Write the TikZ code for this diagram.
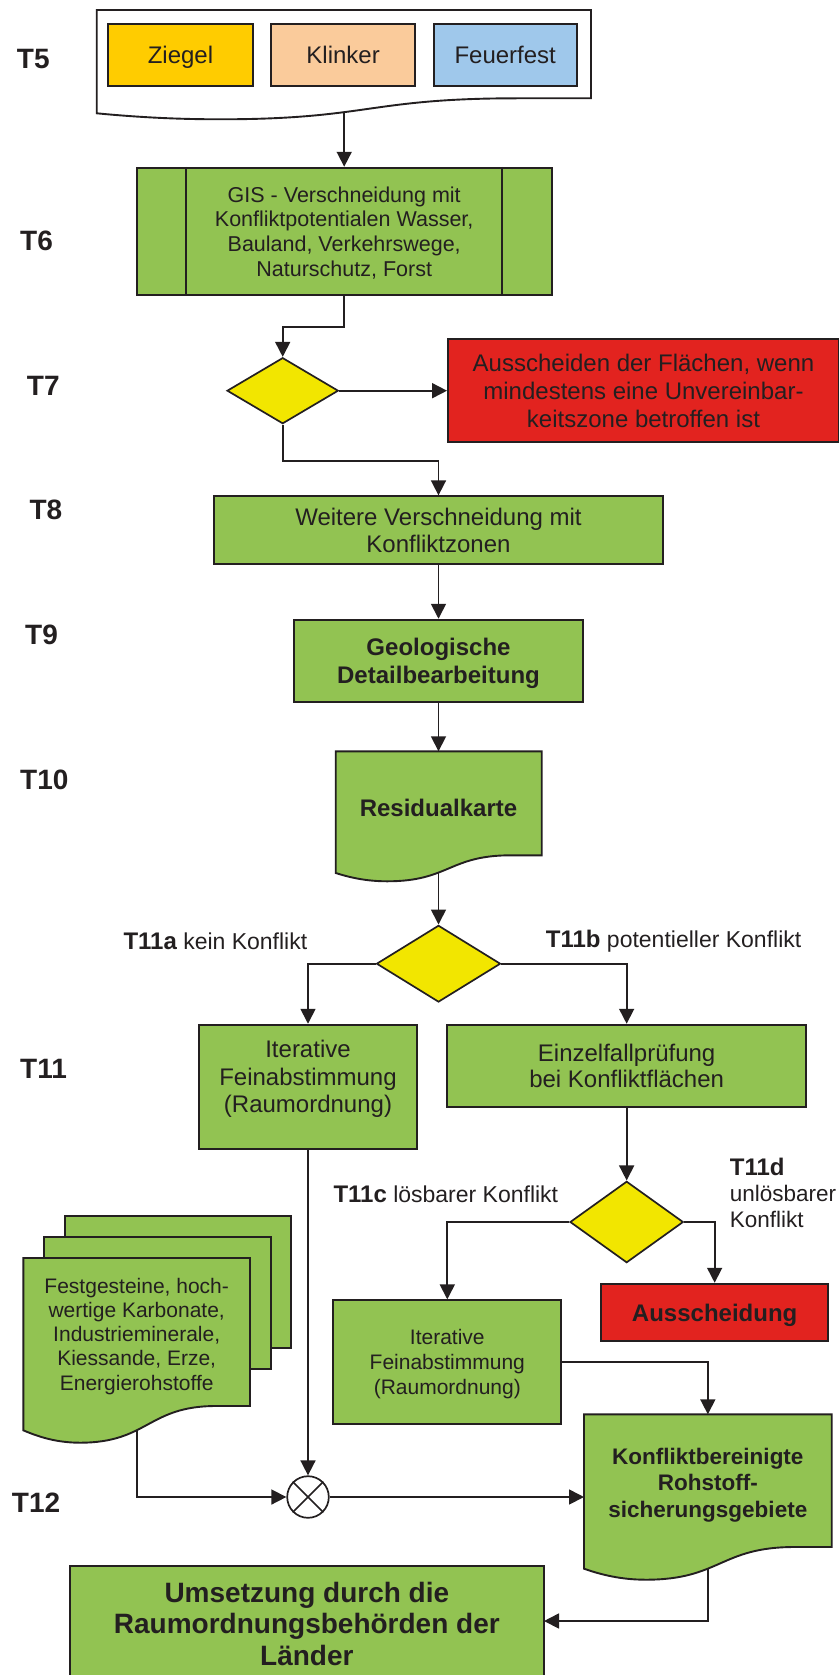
\documentclass[tikz,border=0pt]{standalone}
\usepackage{fontspec}
\setmainfont{Liberation Sans}
\usetikzlibrary{arrows.meta,shapes.geometric}
\definecolor{gr}{RGB}{146,195,82}
\definecolor{zg}{RGB}{255,204,0}
\definecolor{kl}{RGB}{250,203,155}
\definecolor{ff}{RGB}{159,200,235}
\definecolor{yl}{RGB}{242,230,0}
\definecolor{rd}{RGB}{226,35,31}
\definecolor{ink}{RGB}{35,31,32}
\newcommand\fs[2]{\fontsize{#1}{#2}\selectfont}
% style, name, x1, y1, x2, y2, text
\newcommand\mkbox[7]{\node[#1,minimum width={#5-#3},minimum height={#6-#4}] (#2) at ({(#3+#5)/2},{(#4+#6)/2}) {#7};}
% style, x1, top, x2, yLeftBottom, dip, yRightBottom
\newcommand\mkdoc[7]{\path[#1] (#2,#3) -- (#4,#3) -- (#4,#7) -- ({#2+0.85*(#4-#2)},#7) .. controls ({#2+0.55*(#4-#2)},#7) and ({#2+0.55*(#4-#2)},{#5+#6}) .. ({#2+0.25*(#4-#2)},{#5+#6}) .. controls ({#2+0.15*(#4-#2)},{#5+#6}) and ({#2+0.07*(#4-#2)},{#5+0.55*#6}) .. (#2,#5) -- cycle;}
\tikzset{
 box/.style={draw=ink, line width=1.9pt, rectangle, inner sep=0pt, text=ink, align=center, text depth=0pt},
 gbox/.style={box, fill=gr},
 docst/.style={draw=ink, line width=1.9pt, fill=gr},
 dia/.style={draw=ink, line width=1.7pt, diamond, fill=yl, inner sep=0pt},
 conn/.style={draw=ink, line width=1.7pt, -{Triangle[length=15pt,width=15pt]}},
 plain/.style={draw=ink, line width=1.7pt},
 tlab/.style={anchor=base west, inner sep=0pt, text=ink, font=\fs{28}{32}\bfseries},
 blab/.style={anchor=base west, inner sep=0pt, text=ink, font=\fs{23}{27}},
 txt/.style={inner sep=0pt, text=ink, align=center, text depth=0pt},
}
\begin{document}
\begin{tikzpicture}[x=1pt,y=-1pt]
\useasboundingbox (0,0) rectangle (838,1675);
% T labels
\node[tlab] (lt5) at (16.7,69) {T5};
\node[tlab] (lt6) at (20,250.8) {T6};
\node[tlab] (lt7) at (26.7,395) {T7};
\node[tlab] (lt8) at (29.3,519) {T8};
\node[tlab] (lt9) at (25,644) {T9};
\node[tlab] (lt10) at (20,789.7) {T10};
\node[tlab] (lt11) at (20,1078) {T11};
\node[tlab] (lt12) at (11.7,1512) {T12};
% T5
\mkdoc{draw=ink,line width=1.9pt,fill=white}{96.7}{10}{591}{113.3}{6}{98.3}
\mkbox{box,fill=zg,font=\fs{24}{28}}{ziegel}{108.3}{24}{252.7}{86}{Ziegel}
\mkbox{box,fill=kl,font=\fs{24}{28}}{klinker}{271}{24}{415.3}{86}{Klinker}
\mkbox{box,fill=ff,font=\fs{24}{28}}{feuer}{433.7}{24}{576.7}{86}{Feuerfest}
\coordinate (t5b) at (344.2,112.5);
% T6
\mkbox{gbox,font=\fs{21.5}{24.7}}{gis}{136.7}{167.7}{551.7}{295.3}{GIS - Verschneidung mit\\Konfliktpotentialen Wasser,\\Bauland, Verkehrswege,\\Naturschutz, Forst}
\draw[plain] ([xshift=50.3pt]gis.north west) -- ([xshift=50.3pt]gis.south west);
\draw[plain] ([xshift=-50.4pt]gis.north east) -- ([xshift=-50.4pt]gis.south east);
% T7
\node[dia, minimum width=111.3pt, minimum height=66pt] (d1) at (282.7,390.7) {};
\mkbox{box,fill=rd,font=\fs{24}{28.3}}{red1}{448}{339.3}{839}{442.3}{Ausscheiden der Flächen, wenn\\mindestens eine Unvereinbar-\\keitszone betroffen ist}
% T8
\mkbox{gbox,font=\fs{24}{27}}{t8}{214.3}{496.3}{662.7}{563.7}{Weitere Verschneidung mit\\Konfliktzonen}
% T9
\mkbox{gbox,font=\fs{24}{28.4}\bfseries}{t9}{294.2}{619.7}{582.8}{702.3}{Geologische\\Detailbearbeitung}
% T10
\mkdoc{docst}{335.7}{751.3}{541.7}{873}{8.3}{855.3}
\node[txt,font=\fs{24}{28}\bfseries] (rest) at (438.5,807.3) {Residualkarte};
\coordinate (resT) at (438.5,751.3);
\coordinate (resB) at (438.5,872.7);
% T11
\node[dia, minimum width=124pt, minimum height=76.7pt] (d2) at (438.5,963.7) {};
\node[blab] (l11a) at (123.3,949) {{\fs{24}{27}\bfseries T11a} kein Konflikt};
\node[blab] (l11b) at (545.7,947.3) {{\fs{24}{27}\bfseries T11b} potentieller Konflikt};
\mkbox{gbox}{it1}{199.3}{1024.7}{416.7}{1148.7}{}
\node[txt,font=\fs{24}{27.7}] (it1t) at (308,1076.3) {Iterative\\Feinabstimmung\\(Raumordnung)};
\mkbox{gbox,font=\fs{24}{26}}{ein}{447}{1024.7}{806.3}{1107}{Einzelfallprüfung\\bei Konfliktflächen}
\node[dia, minimum width=113.3pt, minimum height=81.4pt] (d3) at (626.65,1222) {};
\node[blab] (l11c) at (333.3,1202.3) {{\fs{24}{27}\bfseries T11c} lösbarer Konflikt};
\node[anchor=north west, inner sep=0pt, text=ink, align=left, font=\fs{22.5}{26}] (l11d) at (729.7,1157.7) {{\fs{24}{26}\bfseries T11d}\\unlösbarer\\Konflikt};
\mkbox{box,fill=rd,font=\fs{24}{28}\bfseries}{aus}{601}{1283.7}{828.3}{1341}{Ausscheidung}
\mkbox{gbox,font=\fs{21}{25}}{it2}{333.3}{1300.3}{561.3}{1424.3}{Iterative\\Feinabstimmung\\(Raumordnung)}
% stacked documents
\mkbox{gbox}{bd1}{64.7}{1216.3}{291.3}{1348}{}
\mkbox{gbox}{bd2}{44}{1237}{270.7}{1369.3}{}
\mkdoc{docst}{23.3}{1258}{250}{1430.3}{12.4}{1406}
\node[txt,font=\fs{21}{24.3}] (fdt) at (136.7,1334) {Festgesteine, hoch-\\wertige Karbonate,\\Industrieminerale,\\Kiessande, Erze,\\Energierohstoffe};
\coordinate (fdB) at (136.7,1430.6);
% T12
\node[circle, draw=ink, fill=white, line width=1.7pt, minimum size=41.6pt, inner sep=0pt] (circ) at (308,1497) {};
\draw[plain] (circ.north east) -- (circ.south west);
\draw[plain] (circ.north west) -- (circ.south east);
\mkdoc{docst}{584}{1414.3}{831.7}{1568.7}{11}{1547}
\node[txt,font=\fs{22.5}{26.5}\bfseries] (konft) at (707.85,1482.8) {Konfliktbereinigte\\Rohstoff-\\sicherungsgebiete};
\coordinate (konfT) at (707.85,1414.3);
\coordinate (konfW) at (584,1497);
\coordinate (konfB) at (707.85,1568.9);
\mkbox{gbox}{ums}{69.7}{1566}{544}{1690}{}
\node[txt,font=\fs{28}{31.7}\bfseries] (umst) at (306.85,1623.7) {Umsetzung durch die\\Raumordnungsbehörden der\\Länder};
\coordinate (umsR) at (544,1621);
% connectors
\draw[conn] (t5b) -- (gis.north);
\draw[conn] (gis.south) -- ++(0,30.4) -| (d1.north);
\draw[conn] (d1.east) -- (d1.east -| red1.west);
\draw[conn] (d1.south) -- ++(0,36.3) -| (t8.north);
\draw[conn] (t8.south) -- (t9.north);
\draw[conn] (t9.south) -- (resT);
\draw[conn] (resB) -- (d2.north);
\draw[conn] (d2.west) -| (it1.north);
\draw[conn] (d2.east) -| (ein.north);
\draw[conn] (ein.south) -- (d3.north);
\draw[conn] (d3.west) -| (it2.north);
\draw[conn] (d3.east) -| (aus.north);
\draw[conn] (it1.south) -- (circ.north);
\draw[conn] (fdB) |- (circ.west);
\draw[conn] (circ.east) -- (konfW);
\draw[conn] (it2.east) -| (konfT);
\draw[conn] (konfB) |- (umsR);
\end{tikzpicture}
\end{document}
